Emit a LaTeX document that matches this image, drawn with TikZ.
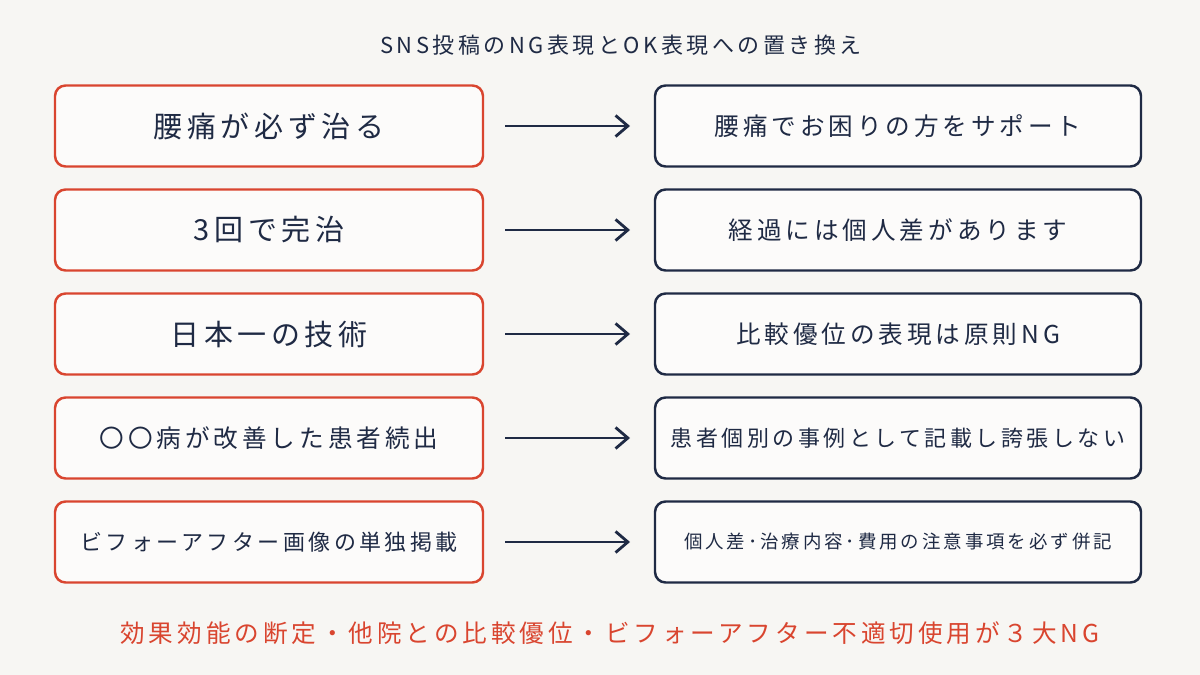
\documentclass[tikz,border=0pt]{standalone}
\usepackage{fontspec}
\setmainfont{Noto Sans CJK JP}[LetterSpace=16]
\usetikzlibrary{arrows.meta}
\definecolor{bg}{HTML}{F7F6F3}
\definecolor{ngred}{HTML}{D9452F}
\definecolor{navy}{HTML}{1F2A44}
\begin{document}
\begin{tikzpicture}[x=0.02cm,y=-0.02cm,
  ngbox/.style={draw=ngred,line width=1.4pt,rounded corners=6pt,fill=white!60!bg,minimum width=428*0.02cm,minimum height=81*0.02cm,text=navy,inner sep=0pt},
  okbox/.style={draw=navy,line width=1.4pt,rounded corners=6pt,fill=white!60!bg,minimum width=486*0.02cm,minimum height=81*0.02cm,text=navy,inner sep=0pt},
  arr/.style={draw=navy,line width=1.6pt,-{Straight Barb[length=7pt,width=12pt]}}]
\fill[bg] (0,0) rectangle (1200,675);
\node[text=navy,font=\fontsize{12.5}{14}\selectfont] (title) at (621,45) {SNS投稿のNG表現とOK表現への置き換え};
\foreach \i/\y/\l/\r/\ls/\rs in {
 1/126/腰痛が必ず治る/腰痛でお困りの方をサポート/16.5/14,
 2/230/3回で完治/経過には個人差があります/16.5/14,
 3/334/日本一の技術/比較優位の表現は原則NG/16.5/14,
 4/438/〇〇病が改善した患者続出/患者個別の事例として記載し誇張しない/14/12.5,
 5/542/ビフォーアフター画像の単独掲載/個人差･治療内容･費用の注意事項を必ず併記/12.5/10.5}{
 \node[ngbox,font=\fontsize{\ls}{\ls}\selectfont] (l\i) at (269,\y) {\l};
 \node[okbox,font=\fontsize{\rs}{\rs}\selectfont] (r\i) at (898,\y) {\r};
 \coordinate (a\i) at (505,\y);
 \coordinate (b\i) at (630,\y);
 \draw[arr] (a\i) -- (b\i);
}
\node[text=ngred,font=\fontsize{14}{15}\selectfont] (foot) at (610,633) {効果効能の断定・他院との比較優位・ビフォーアフター不適切使用が３大NG};
\end{tikzpicture}
\end{document}
